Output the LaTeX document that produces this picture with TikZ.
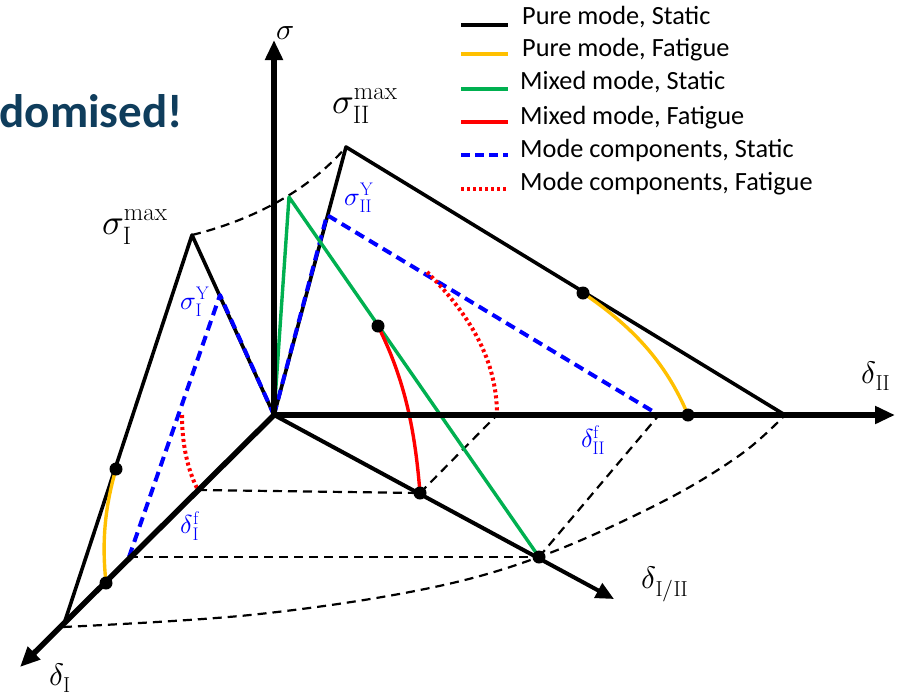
\documentclass[tikz,border=0pt]{standalone}
\usepackage{fontspec}
\usepackage{unicode-math}
\setmathfont{Latin Modern Math}
\newfontfamily\calib{Carlito}
\usetikzlibrary{arrows.meta}
\definecolor{cyel}{HTML}{FFC000}
\definecolor{cgrn}{HTML}{00B050}
\definecolor{cred}{HTML}{FF0000}
\definecolor{cblu}{HTML}{0000FF}
\definecolor{ctitle}{HTML}{0F3D5C}
\begin{document}
\begin{tikzpicture}[x=1pt,y=-1pt,line join=round,
  axisbig/.style={line width=6pt,-{Triangle[length=20pt,width=17pt]}},
  axissmall/.style={line width=4pt,-{Triangle[length=18pt,width=16pt]}},
  pure/.style={line width=3.6pt,black},
  purefat/.style={line width=3.4pt,cyel},
  mixed/.style={line width=3.4pt,cgrn},
  mixedfat/.style={line width=3.4pt,cred},
  compst/.style={line width=4pt,cblu,dash pattern=on 10pt off 6pt},
  compfat/.style={line width=4pt,cred,dash pattern=on 3pt off 3pt},
  guide/.style={line width=2.2pt,black,dash pattern=on 9pt off 6pt},
  dot/.style={circle,fill=black,inner sep=0pt,minimum size=13pt},
  mlab/.style={inner sep=0pt,font=\fontsize{36}{40}\selectfont},
  alab/.style={inner sep=0pt,font=\fontsize{31}{35}\selectfont},
  blab/.style={inner sep=0pt,text=cblu,font=\fontsize{26}{29}\selectfont},
  legtxt/.style={anchor=west,inner sep=0pt,font=\calib\fontsize{26.3}{30}\selectfont}]
\useasboundingbox (0,0) rectangle (897,697);

% key points
\coordinate (O) at (274,415);
\coordinate (sTip) at (274,40);
\coordinate (dIITip) at (895,415);
\coordinate (dITip) at (20,667);
\coordinate (dIIITip) at (614,599);
\coordinate (IA) at (63,627);
\coordinate (IP) at (192,235);
\coordinate (IIP) at (346,147);
\coordinate (IIA) at (785,415);
\coordinate (MP) at (289,197);
\coordinate (MA) at (539,557);
\coordinate (IY) at (220,295);
\coordinate (IYA) at (129,557);
\coordinate (IIY) at (327,215);
\coordinate (IIYA) at (659,415);
\coordinate (IF1) at (182,415);
\coordinate (IF2) at (198,490);
\coordinate (IIF1) at (427,272);
\coordinate (IIF2) at (497,415);
\coordinate (MF1) at (378,326);
\coordinate (MF2) at (420,493);
\coordinate (YI1) at (116,469);
\coordinate (YI2) at (106,583);
\coordinate (YII1) at (583,293);
\coordinate (YII2) at (688,415);

% title fragment
\node[anchor=base east,inner sep=0pt,text=ctitle,font=\calib\fontsize{47}{50}\selectfont\bfseries] (title) at (183,127) {domised!};

% dashed guides
\draw[guide] (IP) .. controls (245,222) and (305,195) .. (IIP);
\draw[guide] plot[smooth,tension=0.6] coordinates {(63,627) (250,615) (420,590) (539,557) (660,503) (740,455) (785,415)};
\draw[guide] (IF2) -- (MF2);
\draw[guide] (IYA) -- (MA);
\draw[guide] (MF2) -- (IIF2);
\draw[guide] (MA) -- (IIYA);

% pure mode static
\draw[pure] (IA) -- (IP) -- (O);
\draw[pure] (O) -- (IIP) -- (IIA);

% mode components static
\draw[compst] (IYA) -- (IY) -- (O);
\draw[compst] (O) -- (IIY) -- (IIYA);

% mixed static
\draw[mixed] (O) -- (MP) -- (MA);

% fatigue curves
\draw[compfat] (IF1) .. controls (182,450) and (190,475) .. (IF2);
\draw[compfat] (IIF1) .. controls (470,315) and (497,360) .. (IIF2);
\draw[mixedfat] (MF1) .. controls (405,380) and (415,430) .. (MF2);
\draw[purefat] (YI1) .. controls (104,510) and (102,545) .. (YI2);
\draw[purefat] (YII1) .. controls (630,325) and (665,360) .. (YII2);

% axes
\draw[axisbig] (O) -- (sTip);
\draw[axisbig] (O) -- (dIITip);
\draw[axisbig,line width=5.5pt] (O) -- (dITip);
\draw[axissmall] (O) -- (dIIITip);

% dots
\node[dot] (d1) at (YI1) {};
\node[dot] (d2) at (YI2) {};
\node[dot] (d3) at (MF1) {};
\node[dot] (d4) at (MF2) {};
\node[dot] (d5) at (MA) {};
\node[dot] (d6) at (YII1) {};
\node[dot] (d7) at (YII2) {};

% labels
\node[alab,font=\fontsize{30}{34}\selectfont] (ls) at (285,33) {$\sigma$};
\node[mlab] (lsI) at (135,227) {$\sigma_{\mathrm{I}}^{\mathrm{max}}$};
\node[mlab] (lsII) at (365,106) {$\sigma_{\mathrm{II}}^{\mathrm{max}}$};
\node[alab] (ldII) at (876,376) {$\delta_{\mathrm{II}}$};
\node[alab] (ldI) at (60,678) {$\delta_{\mathrm{I}}$};
\node[alab] (ldIII) at (665,584) {$\delta_{\mathrm{I/II}}$};
\node[blab] (lYI) at (195,302) {$\sigma_{\mathrm{I}}^{\mathrm{Y}}$};
\node[blab] (lYII) at (359,198) {$\sigma_{\mathrm{II}}^{\mathrm{Y}}$};
\node[blab] (lfI) at (190,526) {$\delta_{\mathrm{I}}^{\mathrm{f}}$};
\node[blab] (lfII) at (593,440) {$\delta_{\mathrm{II}}^{\mathrm{f}}$};

% legend
\coordinate (L1a) at (461,25);  \coordinate (L1b) at (508,25);
\coordinate (L2a) at (461,54);  \coordinate (L2b) at (508,54);
\coordinate (L3a) at (461,89);  \coordinate (L3b) at (508,89);
\coordinate (L4a) at (461,122); \coordinate (L4b) at (508,122);
\coordinate (L5a) at (461,155); \coordinate (L5b) at (508,155);
\coordinate (L6a) at (461,189); \coordinate (L6b) at (508,189);
\draw[pure] (L1a) -- (L1b);
\draw[purefat] (L2a) -- (L2b);
\draw[mixed] (L3a) -- (L3b);
\draw[mixedfat] (L4a) -- (L4b);
\draw[compst,dash pattern=on 9pt off 5pt] (L5a) -- (L5b);
\draw[compfat] (L6a) -- (L6b);
\node[legtxt] (t1) at (522,17) {Pure mode, Static};
\node[legtxt] (t2) at (522,50) {Pure mode, Fatigue};
\node[legtxt] (t3) at (520,82) {Mixed mode, Static};
\node[legtxt] (t4) at (520,118) {Mixed mode, Fatigue};
\node[legtxt] (t5) at (520,150) {Mode components, Static};
\node[legtxt] (t6) at (520,184) {Mode components, Fatigue};
\end{tikzpicture}
\end{document}
